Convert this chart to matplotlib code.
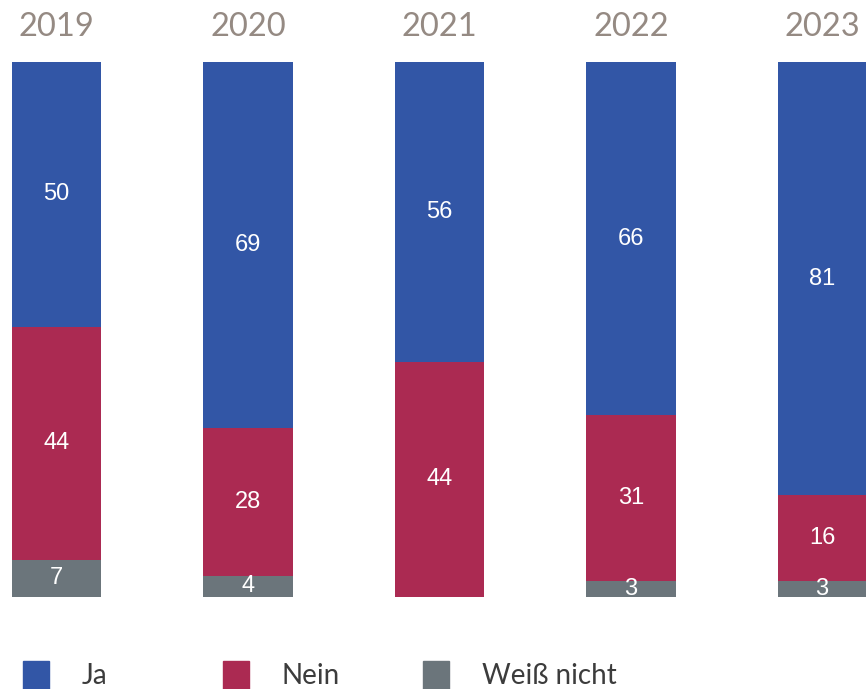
import numpy as np
import matplotlib.pyplot as plt
from matplotlib.patches import Rectangle

# Survey answers per year (percent)
years = ['2019', '2020', '2021', '2022', '2023']
ja = [50, 69, 56, 66, 81]
nein = [44, 28, 44, 31, 16]
weiss_nicht = [7, 4, 0, 3, 3]

series = [('Ja', ja, '#3256a6'),
          ('Nein', nein, '#ab2a52'),
          ('Weiß nicht', weiss_nicht, '#6b757b')]

fig = plt.figure(figsize=(8.66, 6.89), dpi=100)
ax = fig.add_axes([0, 0.1335, 1, 0.7765])

x = np.arange(len(years))
totals = np.array(ja) + np.array(nein) + np.array(weiss_nicht)

# stack from the bottom: Weiß nicht, Nein, Ja (each bar scaled to full height)
bottom = np.zeros(len(years))
for name, vals, color in reversed(series):
    vals = np.array(vals)
    share = vals / totals
    bars = ax.bar(x, share, 0.465, bottom=bottom, color=color, linewidth=0)
    labels = [str(v) if v > 0 else '' for v in vals]
    ax.bar_label(bars, labels=labels, label_type='center', color='white',
                 fontsize=17, family='Liberation Sans')
    bottom += share

ax.set_xlim(-0.295, 4.227)
ax.set_ylim(0, 1)
ax.axis('off')

# year labels above each bar
for xi, yr in zip(x, years):
    ax.text(xi, 1.066, yr, ha='center', va='center', fontsize=23.5,
            family='Lato', color='#958a83')

# legend laid out with fixed spacing
for i, (name, vals, color) in enumerate(series):
    left = 23 / 866 + i * 200 / 866
    fig.patches.append(Rectangle((left, 0), 26 / 866, 28 / 689, color=color,
                                 transform=fig.transFigure, figure=fig))
    fig.text(left + 59 / 866, 13 / 689, name, ha='left', va='center',
             fontsize=20, family='Lato', color='#3c3c3c')

fig.savefig('out.png', dpi=100)
